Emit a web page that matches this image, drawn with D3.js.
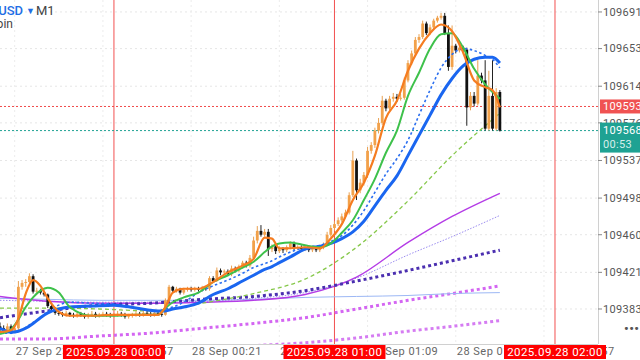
<!DOCTYPE html>
<html>
<head>
<meta charset="utf-8">
<title>BTCUSD M1</title>
<script src="https://cdn.jsdelivr.net/npm/d3@7"></script>
<style>
  body { margin: 0; background: #fff; overflow: hidden; }
  svg { display: block; font-family: Roboto, "Liberation Sans", sans-serif; }
</style>
</head>
<body>
<svg id="svg"></svg>
<script>
// ---- data (prices in USD, times in minutes from 2025.09.28 00:00) ----
var firstMinute = -31;           // first M1 bar = 27 Sep 23:29
var firstOpen = 109365;
var closes = [109363,109361,109365,109360,109363,109406,109410,109411,109417,109401,109402,109400,109398,109386,109383,109379,
  109378,109377,109379,109377,109376,109378,109377,109375,109377,109378,109376,109377,109378,109377,109376,109377,109378,109377,109375,109376,109377,109378,109377,109379,109378,109377,109379,109378,109377,
  109392,109406,109402,109404,109400,109403,109404,109403,109404,109403,109405,109404,
  109415,109412,109423,109421,109422,109419,109425,109423,109427,109431,109428,109436,
  109454,109464,109460,109463,109445,109448,109443,109445,109444,109447,109451,109446,
  109447,109445,109446,109444,109445,109444,109447,109450,109460,109467,109471,109475,109479,109483,
  109501,109537,109506,109514,109522,109547,109553,109568,109576,109599,109591,109601,109603,109601,109602,
  109620,109638,109648,109662,109665,109679,109669,109675,109682,109685,109687,109669,109634,109656,109651,109654,109652,
  109592,109604,109596,109625,109620,109570,109604,109570,109608,109568];
var highs = [109369,109366,109368,109367,109366,109412,109413,109414,109420,109419,109405,109404,109402,109399,109388,109385,
  109381,109380,109381,109380,109379,109380,109380,109379,109379,109381,109380,109379,109380,109380,109379,109379,109381,109380,109379,109378,109379,109381,109380,109382,109381,109380,109381,109381,109380,
  109394,109408,109407,109406,109405,109405,109406,109406,109406,109406,109407,109407,
  109417,109417,109426,109425,109424,109424,109428,109427,109429,109433,109433,109439,
  109458,109469,109470,109466,109466,109450,109450,109448,109447,109449,109453,109453,
  109449,109449,109448,109448,109447,109447,109449,109452,109463,109470,109474,109478,109482,109486,
  109504,109547,109539,109518,109525,109551,109556,109571,109581,109604,109601,109604,109607,109606,109606,
  109623,109641,109651,109665,109668,109682,109681,109678,109684,109687,109690,109690,109677,109677,109658,109657,109656,
  109654,109608,109608,109641,109628,109641,109630,109641,109612,109610];
var lows = [109359,109357,109359,109357,109358,109361,109403,109406,109408,109399,109398,109398,109396,109384,109380,109377,
  109376,109375,109375,109375,109374,109374,109375,109373,109373,109375,109374,109374,109375,109375,109374,109374,109375,109375,109373,109373,109374,109375,109375,109375,109376,109375,109375,109376,109375,
  109376,109390,109400,109400,109398,109398,109401,109401,109401,109401,109401,109402,
  109402,109410,109411,109418,109418,109417,109417,109421,109421,109425,109426,109426,
  109434,109451,109458,109458,109438,109442,109440,109441,109441,109442,109445,109444,
  109444,109443,109443,109442,109442,109442,109442,109445,109448,109458,109464,109469,109473,109477,
  109481,109499,109496,109503,109511,109519,109544,109550,109565,109574,109588,109589,109598,109598,109599,
  109600,109618,109636,109646,109659,109663,109667,109667,109673,109680,109683,109667,109630,109631,109648,109649,109649,
  109573,109589,109593,109594,109617,109568,109568,109568,109568,109567];

// fast moving averages, read at these minutes
var fastTimes = [-31,-28,-26,-24,-22,-20,-18,-15,-12,-6,0,6,12,14,16,19,23,27,31,35,38,41,43,45,48,52,56,59,62,65,68,71,74,77,80,83,86,89,92,95,98,101,103,105];
var maOrange = [109359,109361,109373,109399,109413,109407,109394,109380,109376,109376,109377,109377,109377,109385,109400,109404,109404,109411,109421,109428,109435,109457,109456,109446,109446,109447,109446,109456,109471,109496,109514,109542,109581,109599,109630,109653,109669,109678,109671,109649,109620,109613,109610,109592];
var maGreen = [109357,109362,109372,109385,109395,109402,109405,109400,109385,109376,109376,109377,109377,109384,109390,109395,109400,109411,109418,109426,109432,109442,109448,109451,109452,109449,109447,109451,109462,109475,109496,109518,109545,109568,109604,109628,109653,109668,109669,109654,109632,109616,109608,109601];
var maBlue = [109363,109359,109360,109363,109368,109374,109379,109383,109385,109386,109387,109384,109381,109381,109383,109385,109389,109398,109404,109412,109418,109424,109427,109431,109437,109445,109448,109451,109456,109463,109474,109490,109506,109521,109542,109563,109584,109605,109622,109635,109642,109644,109644,109638];
var maBlueDot = [109358,109358,109360,109364,109369,109374,109380,109387,109390,109389,109388,109384,109381,109383,109385,109390,109400,109407,109413,109420,109426,109430,109433,109437,109442,109447,109449,109453,109459,109470,109485,109504,109523,109539,109558,109584,109610,109633,109647,109653,109651,109646,109642,109633];

// slow moving averages
var slowTimes = [-31,-18,-4,10,24,38,52,66,80,92,105];
var maGreenDash = [109384,109384,109383,109381,109389,109399,109414,109447,109495,109542,109586];
var maPurple    = [109396,109391,109389,109389,109390,109392,109398,109416,109452,109479,109503];
var maLavender  = [109392,109391,109390,109390,109391,109394,109400,109415,109439,109458,109480];
var maIndigo    = [109374,109381,109387,109389,109393,109396,109402,109412,109423,109433,109444];
var maSky       = [109394,109393,109392,109392,109392,109393,109395,109396,109397,109399,109400];
var maMagenta   = [109352,109352,109355,109358,109363,109368,109374,109383,109392,109399,109407];
var maMagenta2  = [109328,109332,109335,109338,109342,109345,109348,109353,109360,109365,109371];

var priceTicks = [109691,109653,109614,109576,109537,109498,109460,109421,109383];
var timeTicks = [-27,-3,21,45,69,93,117];
var timeLabels = ["27 Sep 23:33","27 Sep 23:57","28 Sep 00:21","28 Sep 00:45","28 Sep 01:09","28 Sep 01:33","28 Sep 01:57"];
var markerTimes = [0,60,120];
var markerLabels = ["2025.09.28 00:00","2025.09.28 01:00","2025.09.28 02:00"];
var askPrice = 109593, bidPrice = 109568, countdown = "00:53";

// ---- layout ----
var width = 640, height = 360,
    plotW = 598, plotH = 344;

var svg = d3.select("#svg").attr("width", width).attr("height", height);

var x = d3.scaleLinear().domain([-31.0, 131.7]).range([0, plotW]);
var y = d3.scaleLinear().domain([109346.7, 109703.4]).range([plotH, 0]);

svg.append("clipPath").attr("id", "clip")
  .append("rect").attr("width", plotW).attr("height", plotH);

var plot = svg.append("g").attr("clip-path", "url(#clip)");

// grid
plot.selectAll(".hgrid").data(priceTicks).enter().append("line")
  .attr("x1", 0).attr("x2", plotW)
  .attr("y1", function(d){ return y(d); }).attr("y2", function(d){ return y(d); })
  .attr("stroke", "#e6e6e6").attr("stroke-dasharray", "2,3");
plot.selectAll(".vgrid").data(timeTicks).enter().append("line")
  .attr("y1", 0).attr("y2", plotH)
  .attr("x1", function(d){ return x(d); }).attr("x2", function(d){ return x(d); })
  .attr("stroke", "#ececec").attr("stroke-dasharray", "2,3");

// vertical markers
plot.selectAll(".vmark").data(markerTimes).enter().append("line")
  .attr("x1", function(d){ return x(d); }).attr("x2", function(d){ return x(d); })
  .attr("y1", 0).attr("y2", plotH)
  .attr("stroke", "#f25050").attr("stroke-width", 1);

// ask / bid
plot.append("line").attr("x1", 0).attr("x2", plotW)
  .attr("y1", y(askPrice)).attr("y2", y(askPrice))
  .attr("stroke", "#f04a4a").attr("stroke-dasharray", "2,2");
plot.append("line").attr("x1", 0).attr("x2", plotW)
  .attr("y1", y(bidPrice)).attr("y2", y(bidPrice))
  .attr("stroke", "#1fa293").attr("stroke-dasharray", "2,2");

function series(times, vals) {
  return times.map(function(t, i){ return {t: t, v: vals[i]}; });
}
var line = d3.line()
  .x(function(d){ return x(d.t); })
  .y(function(d){ return y(d.v); })
  .curve(d3.curveMonotoneX);

function drawLine(times, vals, color, w, dash) {
  plot.append("path").datum(series(times, vals))
    .attr("d", line).attr("fill", "none")
    .attr("stroke", color).attr("stroke-width", w)
    .attr("stroke-dasharray", dash || null);
}

// slow MAs (under candles)
drawLine(slowTimes, maMagenta2, "#d57cf2", 3, "3,3");
drawLine(slowTimes, maMagenta, "#d466f2", 3, "3,3");
drawLine(slowTimes, maSky, "#9db8f5", 1);
drawLine(slowTimes, maLavender, "#9b8cf0", 1, "1.5,1.5");
drawLine(slowTimes, maPurple, "#b43ce6", 1.4);
drawLine(slowTimes, maIndigo, "#4b2fb0", 3, "3,3");
drawLine(slowTimes, maGreenDash, "#86c84a", 1.3, "4,3");

// candles
var candles = closes.map(function(c, i){
  return {t: firstMinute + i, o: i === 0 ? firstOpen : closes[i-1], h: highs[i], l: lows[i], c: c};
});
var cg = plot.selectAll(".candle").data(candles).enter().append("g");
cg.append("line")
  .attr("x1", function(d){ return x(d.t); }).attr("x2", function(d){ return x(d.t); })
  .attr("y1", function(d){ return y(d.h); }).attr("y2", function(d){ return y(d.l); })
  .attr("stroke", function(d){ return d.c >= d.o ? "#e9a050" : "#222"; })
  .attr("stroke-width", 1);
cg.append("rect")
  .attr("x", function(d){ return x(d.t) - 1.4; })
  .attr("width", 2.8)
  .attr("y", function(d){ return y(Math.max(d.o, d.c)); })
  .attr("height", function(d){ return Math.max(1, Math.abs(y(d.o) - y(d.c))); })
  .attr("fill", function(d){ return d.c >= d.o ? "#f2a14a" : "#111"; });

// fast MAs
drawLine(fastTimes, maBlueDot, "#2b6ff0", 1.6, "2.5,2.5");
drawLine(fastTimes, maBlue, "#1a66f0", 3);
drawLine(fastTimes, maGreen, "#3ec14b", 2);
drawLine(fastTimes, maOrange, "#f57c20", 2.2);

// borders
svg.append("line").attr("x1", plotW + 0.5).attr("x2", plotW + 0.5).attr("y1", 0).attr("y2", plotH)
  .attr("stroke", "#d0d0d0");
svg.append("line").attr("x1", 0).attr("x2", plotW).attr("y1", plotH + 0.5).attr("y2", plotH + 0.5)
  .attr("stroke", "#d0d0d0");

// price axis
var pa = svg.append("g");
pa.selectAll(".pt").data(priceTicks).enter().append("line")
  .attr("x1", plotW).attr("x2", plotW + 4)
  .attr("y1", function(d){ return y(d); }).attr("y2", function(d){ return y(d); })
  .attr("stroke", "#888");
pa.selectAll(".pl").data(priceTicks).enter().append("text")
  .attr("x", plotW + 5).attr("y", function(d){ return y(d); })
  .attr("dy", "0.35em").attr("font-size", 11).attr("fill", "#555")
  .attr("letter-spacing", 0.3)
  .text(function(d){ return d; });

pa.append("rect").attr("x", plotW + 2).attr("y", y(askPrice) - 7).attr("width", 42).attr("height", 14)
  .attr("fill", "#f05252");
pa.append("text").attr("x", plotW + 5).attr("y", y(askPrice)).attr("dy", "0.35em")
  .attr("font-size", 11).attr("fill", "#fff").attr("letter-spacing", 0.3).text(askPrice);

pa.append("rect").attr("x", plotW + 2).attr("y", y(bidPrice) - 8).attr("width", 42).attr("height", 30)
  .attr("fill", "#1fa293");
pa.append("text").attr("x", plotW + 5).attr("y", y(bidPrice)).attr("dy", "0.35em")
  .attr("font-size", 11).attr("fill", "#fff").attr("letter-spacing", 0.3).text(bidPrice);
pa.append("text").attr("x", plotW + 5).attr("y", y(bidPrice) + 14).attr("dy", "0.35em")
  .attr("font-size", 11).attr("fill", "#d6efeb").attr("letter-spacing", 0.3).text(countdown);

pa.append("text").attr("x", 624).attr("y", 333).attr("font-size", 13).attr("font-weight", "bold")
  .attr("fill", "#555").attr("letter-spacing", 0.5).text("•••");

// time axis
var ta = svg.append("g");
ta.selectAll(".tl").data(timeTicks).enter().append("text")
  .attr("x", function(d){ return x(d) + 1; }).attr("y", 355)
  .attr("font-size", 11).attr("fill", "#666").attr("letter-spacing", 0.5)
  .text(function(d, i){ return timeLabels[i]; });

var mk = ta.selectAll(".mk").data(markerTimes).enter().append("g");
mk.append("rect")
  .attr("x", function(d){ return x(d) - 51; }).attr("y", 345)
  .attr("width", 102).attr("height", 14).attr("fill", "#ff0000");
mk.append("text")
  .attr("x", function(d){ return x(d); }).attr("y", 356)
  .attr("text-anchor", "middle").attr("font-size", 11.5).attr("fill", "#fff")
  .attr("letter-spacing", 0.4)
  .text(function(d, i){ return markerLabels[i]; });

// symbol header
svg.append("text").attr("x", 23).attr("y", 15).attr("text-anchor", "end")
  .attr("font-size", 13).attr("font-weight", 500).attr("fill", "#1f6fe5").text("BTCUSD");
svg.append("text").attr("x", 26).attr("y", 14).attr("font-size", 9).attr("fill", "#1f6fe5").text("▼");
svg.append("text").attr("x", 36).attr("y", 15).attr("font-size", 13).attr("fill", "#444").text("M1");
svg.append("text").attr("x", 13).attr("y", 28).attr("text-anchor", "end")
  .attr("font-size", 12).attr("fill", "#444").text("Bitcoin");
</script>
</body>
</html>
